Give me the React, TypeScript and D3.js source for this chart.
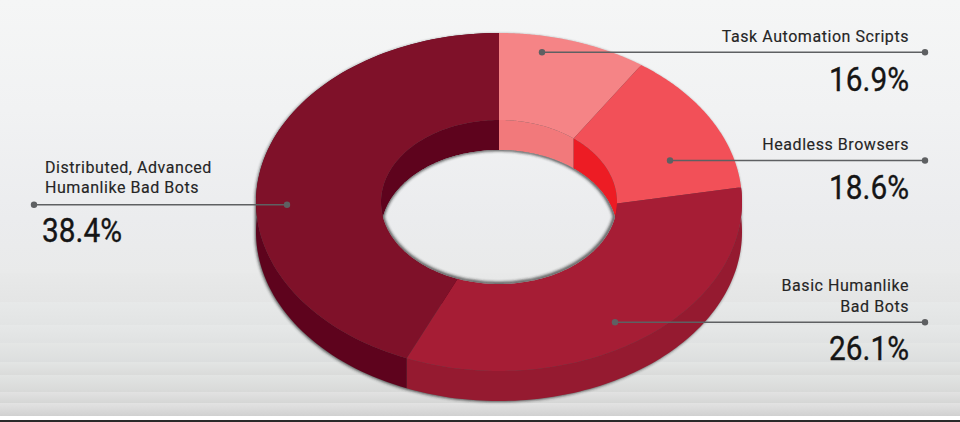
import React from "react";
import * as d3 from "d3";

// Values as printed on the labels
const categories = ["Task Automation Scripts", "Headless Browsers", "Basic Humanlike Bad Bots", "Distributed, Advanced Humanlike Bad Bots"];
const percentLabels = [16.9, 18.6, 26.1, 38.4];
// Shares of the ring as actually drawn in the picture (outer and inner rims)
const outerShares = [9.95, 13.65, 32.6, 43.8];
const innerShares = [10.9, 14.4, 30.4, 44.3];
const faceColors = ["#f58486", "#f25058", "#a61d35", "#7f1129"];
const wallColors = ["#f2797b", "#ed1c24", "#951a30", "#5e031d"];

// Background bands: top edge, top colour, bottom colour
const bandEdges = [273, 302, 325, 343, 362, 375, 392, 403, 416];
const bandTop = ["#e8e9e9", "#e7e9e9", "#e6e8e8", "#e4e6e5", "#e3e5e4", "#e2e4e3", "#e2e2e2", "#e3e3e3"];
const bandBottom = ["#e4e5e5", "#e2e4e4", "#e0e2e2", "#dcdede", "#dadbda", "#d8d9d8", "#d5d6d5", "#d0d0d0"];

const labelLines: [number, number, number][] = [[542, 925, 52.3], [670, 925, 160.5], [615, 925, 322.3], [34, 287, 204.7]];

const W = 960, H = 422;
const cx = 499, cy = 202, depth = 30;
const Rx = 243, Ry = 169, rx = 118, ry = 82;

const pie = d3.pie<number>().sort(null).value((d) => d);
const outerArcs = pie(outerShares);
const innerArcs = pie(innerShares);

const pt = (a: number, a_rx: number, a_ry: number, dy = 0): [number, number] => [
  cx + a_rx * Math.sin(a),
  cy + dy - a_ry * Math.cos(a),
];
const sample = (a0: number, a1: number, n = 90) => d3.range(n + 1).map((i) => a0 + ((a1 - a0) * i) / n);
const line = d3.line<[number, number]>();

function facePath(i: number) {
  const o = outerArcs[i], n = innerArcs[i];
  return line([
    ...sample(o.startAngle, o.endAngle).map((a) => pt(a, Rx, Ry)),
    ...sample(n.endAngle, n.startAngle).map((a) => pt(a, rx, ry)),
  ]) + "Z";
}
function wallPath(a0: number, a1: number, x: number, y: number) {
  return line([
    ...sample(a0, a1).map((a) => pt(a, x, y)),
    ...sample(a1, a0).map((a) => pt(a, x, y, depth)),
  ]) + "Z";
}
// The see-through hole: the inner ellipse intersected with its copy shifted down by the depth
const aMax = Math.acos(depth / 2 / ry);
const lens = line([
  ...sample(-aMax, aMax).map((a) => pt(a, rx, ry, depth)),
  ...sample(aMax, -aMax).map((a) => [cx + rx * Math.sin(a), cy + ry * Math.cos(a)] as [number, number]),
]) + "Z";
const silhouette = line([
  ...sample(-Math.PI / 2, Math.PI / 2).map((a) => pt(a, Rx, Ry)),
  ...sample(Math.PI / 2, (3 * Math.PI) / 2).map((a) => pt(a, Rx, Ry, depth)),
]) + "Z";

const labelFont = "Roboto, sans-serif";

function Background() {
  return (
    <g>
      <rect x={0} y={0} width={W} height={273} fill="url(#bgTop)" />
      {bandTop.map((_, i) => (
        <rect key={i} x={0} y={bandEdges[i]} width={W} height={bandEdges[i + 1] - bandEdges[i]} fill={`url(#band${i})`} />
      ))}
    </g>
  );
}

export default function App() {
  const pctText = (t: number, x: number, y: number, anchor: string) => (
    <text x={x} y={y} textAnchor={anchor} fontFamily={labelFont} fontSize={33} fill="#151515" stroke="#151515" strokeWidth={0.35} textLength={80} lengthAdjust="spacingAndGlyphs">
      {`${t.toFixed(1)}%`}
    </text>
  );
  const cat = (t: string, x: number, y: number, anchor: string) => (
    <text x={x} y={y} textAnchor={anchor} fontFamily={labelFont} fontSize={16} letterSpacing={0.55} fill="#252525" stroke="#252525" strokeWidth={0.15}>
      {t}
    </text>
  );
  return (
    <svg width={W} height={H} viewBox={`0 0 ${W} ${H}`} style={{ position: "absolute", left: 0, top: 0, display: "block" }}>
      <defs>
        <linearGradient id="bgTop" gradientUnits="userSpaceOnUse" x1={0} y1={0} x2={0} y2={273}>
          <stop offset="0" stopColor="#f5f6f6" />
          <stop offset="0.4" stopColor="#f1f2f3" />
          <stop offset="0.8" stopColor="#ebecee" />
          <stop offset="1" stopColor="#e9eaea" />
        </linearGradient>
        {bandTop.map((c, i) => (
          <linearGradient key={i} id={`band${i}`} gradientUnits="userSpaceOnUse" x1={0} x2={0} y1={bandEdges[i]} y2={bandEdges[i + 1]}>
            <stop offset="0" stopColor={c} />
            <stop offset="1" stopColor={bandBottom[i]} />
          </linearGradient>
        ))}
        <filter id="soft" x="-5%" y="-5%" width="110%" height="110%">
          <feGaussianBlur stdDeviation="1.6" />
        </filter>
        <clipPath id="lensClip"><path d={lens} /></clipPath>
      </defs>

      <Background />
      <rect x={0} y={416} width={W} height={4} fill="#ffffff" />
      <rect x={0} y={420} width={W} height={2} fill="#2a2a2a" />

      <path d={silhouette} fill="#222" opacity={0.75} filter="url(#soft)" transform="translate(-1,1)" />

      {[2, 3].map((i) => (
        <path key={i} d={wallPath(outerArcs[i].startAngle, outerArcs[i].endAngle, Rx, Ry)} fill={wallColors[i]} />
      ))}
      {innerArcs.map((a, i) => (
        <path key={i} d={wallPath(a.startAngle, a.endAngle, rx, ry)} fill={wallColors[i]} />
      ))}
      {outerArcs.map((_, i) => (
        <path key={i} d={facePath(i)} fill={faceColors[i]} />
      ))}

      <g clipPath="url(#lensClip)">
        <Background />
        <path d={lens} fill="none" stroke="#222" strokeWidth={3} opacity={0.85} filter="url(#soft)" transform="translate(-0.5,-0.5)" />
      </g>

      {labelLines.map(([x1, x2, y], i) => (
        <g key={i}>
          <line x1={x1} x2={x2} y1={y} y2={y} stroke="#5e6062" strokeWidth={1.5} />
          <circle cx={x1} cy={y} r={3.2} fill="#5e6062" />
          <circle cx={x2} cy={y} r={3.2} fill="#5e6062" />
        </g>
      ))}

      {cat(categories[0], 909, 42, "end")}
      {pctText(percentLabels[0], 909, 91, "end")}
      {cat(categories[1], 909, 150, "end")}
      {pctText(percentLabels[1], 909, 199, "end")}
      {cat("Basic Humanlike", 909, 291, "end")}
      {cat("Bad Bots", 909, 312, "end")}
      {pctText(percentLabels[2], 909, 360, "end")}
      {cat("Distributed, Advanced", 45, 173, "start")}
      {cat("Humanlike Bad Bots", 45, 193, "start")}
      {pctText(percentLabels[3], 42, 242, "start")}
    </svg>
  );
}
